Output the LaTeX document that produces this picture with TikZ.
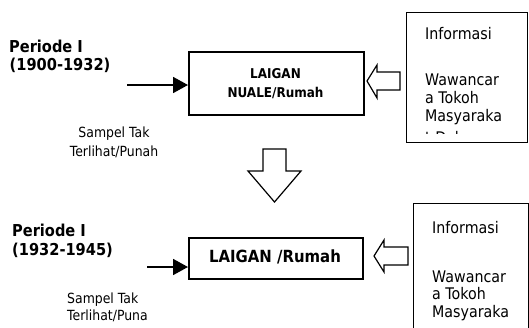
\documentclass[tikz,border=0pt]{standalone}
\usepackage{fontspec}
\setmainfont{DejaVu Sans}[FakeStretch=0.89]
\usetikzlibrary{arrows.meta}
\tikzset{
  lbl/.style={inner sep=0pt, anchor=base west},
  lblc/.style={inner sep=0pt, anchor=base},
  bigbold/.style={font=\fontsize{16.4}{19}\selectfont\bfseries},
  small/.style={font=\fontsize{14}{16}\selectfont},
  info/.style={font=\fontsize{16}{19}\selectfont},
  mainbox/.style={draw, line width=1.7pt, inner sep=0pt, anchor=north west},
  infobox/.style={draw, line width=1.4pt, inner sep=0pt, anchor=north west},
  blockarrow/.style={draw, line width=1.2pt, fill=white, line join=miter},
  solidarrow/.style={line width=1.8pt, -{Triangle[length=15pt,width=16pt]}}
}
\begin{document}
\begin{tikzpicture}[x=1pt,y=-1pt]
\useasboundingbox (0,0) rectangle (529,327);
\clip (0,0) rectangle (529,327);

% ---------- top row ----------
\node[lbl, bigbold] (p1) at (9,52) {Periode I};
\node[lbl, bigbold] (y1) at (9.5,70) {(1900-1932)};
\node[lblc, small] (s1a) at (114,137) {Sampel Tak};
\node[lblc, small] (s1b) at (114,156) {Terlihat/Punah};

\node[mainbox, minimum width=175pt, minimum height=63pt] (b1) at (188,51) {};
\node[lblc, font=\fontsize{13.5}{16}\selectfont\bfseries] (t1a) at (275.5,78) {LAIGAN};
\node[lblc, font=\fontsize{13.5}{16}\selectfont\bfseries] (t1b) at (275.5,97) {NUALE/Rumah};

\coordinate (a1s) at (127,85);
\draw[solidarrow] (a1s) -- (b1.west |- a1s);

\node[infobox, minimum width=121pt, minimum height=130pt] (i1) at (406,12) {};
\node[lbl, info] (i1a) at (425,39) {Informasi};
\node[lbl, info] (i1b) at (425,85) {Wawancar};
\node[lbl, info] (i1c) at (425,103) {a Tokoh};
\node[lbl, info] (i1d) at (425,121) {Masyaraka};
\begin{scope}
  \clip (410,129) rectangle (520,133);
  \node[lbl, info] (i1e) at (425,143) {t Dalam};
\end{scope}

\path[blockarrow] (367,81) -- (377,65) -- (377,72) -- (400,72) -- (400,90) -- (377,90) -- (377,98) -- cycle;

% ---------- down arrow ----------
\path[blockarrow] (263,149) -- (286,149) -- (286,171) -- (301,171) -- (274.5,202) -- (248,171) -- (263,171) -- cycle;

% ---------- bottom row ----------
\node[lbl, bigbold] (p2) at (12,236) {Periode I};
\node[lbl, bigbold] (y2) at (12,255) {(1932-1945)};
\node[lbl, small] (s2a) at (67,303) {Sampel Tak};
\node[lbl, small] (s2b) at (67,320) {Terlihat/Puna};

\node[mainbox, minimum width=174pt, minimum height=41pt] (b2) at (188,237) {};
\node[lblc, font=\fontsize{16.75}{19}\selectfont\bfseries] (t2) at (275,262) {LAIGAN /Rumah};

\coordinate (a2s) at (147,267);
\draw[solidarrow] (a2s) -- (b2.west |- a2s);

\node[infobox, minimum width=115pt, minimum height=140pt] (i2) at (413,203) {};
\node[lbl, info] (i2a) at (432,233) {Informasi};
\node[lbl, info] (i2b) at (432,282) {Wawancar};
\node[lbl, info] (i2c) at (432,299.5) {a Tokoh};
\node[lbl, info] (i2d) at (432,317) {Masyaraka};

\path[blockarrow] (374,256) -- (384,240) -- (384,247) -- (408,247) -- (408,265) -- (384,265) -- (384,272) -- cycle;
\end{tikzpicture}
\end{document}
